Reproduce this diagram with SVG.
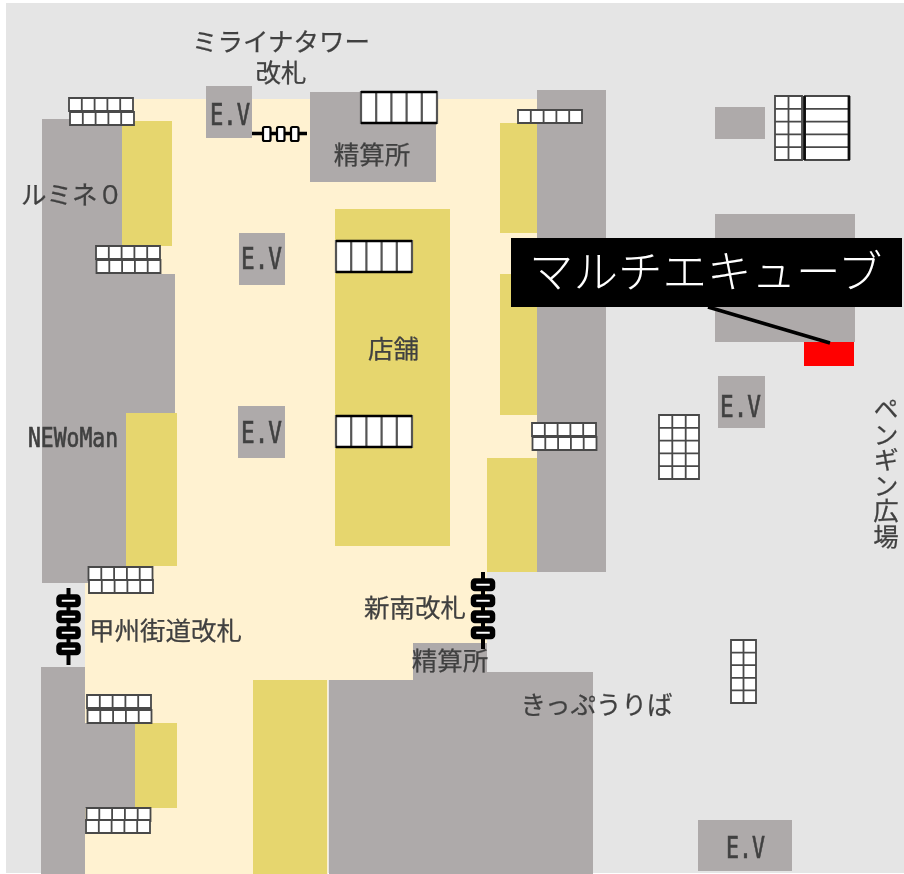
<svg xmlns="http://www.w3.org/2000/svg" xmlns:xlink="http://www.w3.org/1999/xlink" width="904" height="874" viewBox="0 0 904 874">
<style>
.g{fill:#aeaaaa}.y{fill:#e6d66e}.c{fill:#fff2d1}
.t{font-family:"Noto Sans CJK JP",sans-serif;font-size:25.5px;fill:#404040;stroke:#404040;stroke-width:.25}
.m{font-family:"DejaVu Sans Mono",monospace;font-size:30px;fill:#404040;stroke:#404040;stroke-width:.7}
.cell{fill:#fff;stroke:#484848;stroke-width:1.8}
.big{fill:#fff;stroke:#555;stroke-width:2.2}
.edge{stroke:#000;stroke-width:2.4;fill:none}
.gate{fill:#fff;stroke:#000;stroke-width:5.500}
</style>
<defs>
<filter id="soft" x="0" y="0" width="100%" height="100%"><feGaussianBlur stdDeviation="0.7"/></filter>
<g id="row"><path class="cell" d="M0 0H64V13H0ZM12.800 0V13M25.600 0V13M38.400 0V13M51.200 0V13"/></g>
<g id="wide"><path class="big" d="M0 0H76V31H0ZM15.200 0V31M30.400 0V31M45.600 0V31M60.800 0V31"/><path class="edge" d="M0 0H76M0 31H76"/></g>
<g id="gv"><path d="M0 -8V69" stroke="#000" stroke-width="4"/><rect class="gate" x="-9.500" y="1" width="19" height="7.500" rx="1.500"/><rect class="gate" x="-9.500" y="17" width="19" height="7.500" rx="1.500"/><rect class="gate" x="-9.500" y="33" width="19" height="7.500" rx="1.500"/><rect class="gate" x="-9.500" y="49" width="19" height="7.500" rx="1.500"/></g>
</defs>
<rect width="904" height="874" fill="#fff"/>
<g filter="url(#soft)">
<rect x="6" y="3" width="898" height="870" fill="#e5e5e5"/>
<path id="concourse" class="c" d="M134 99H537V458H487V643H413V680H328V874H85V583H42V119H134Z"/>
<g id="lumine"><path class="g" d="M42 119H122V274H175V413H126V583H42Z"/><rect class="y" x="122" y="121" width="50" height="125"/><text class="t" x="21" y="204">ルミネ０</text></g>
<g id="newoman"><rect class="y" x="126" y="413" width="51" height="153"/><text class="m" x="28" y="447" style="font-size:26px" textLength="90" lengthAdjust="spacingAndGlyphs">NEWoMan</text></g>
<g id="lower-left"><path class="g" d="M41 667H85V723H135V808H85V874H41Z"/><rect class="y" x="135" y="723" width="42" height="85"/></g>
<g id="lower-shop"><rect class="y" x="253" y="680" width="74" height="194"/></g>
<g id="east-block"><rect class="g" x="537" y="90" width="69" height="482"/><rect class="y" x="500" y="123" width="37" height="110"/><rect class="y" x="500" y="274" width="37" height="141"/><rect class="y" x="487" y="458" width="50" height="114"/></g>
<g id="tenpo"><rect class="y" x="335" y="209" width="115" height="337"/><text class="t" x="393.500" y="358" text-anchor="middle">店舗</text></g>
<g id="seisan-north"><rect class="g" x="310" y="92" width="126" height="90"/><text class="t" x="372" y="164" text-anchor="middle">精算所</text></g>
<g id="kippu"><path class="g" d="M329 680H413V643H487V672H593V874H329Z"/><text class="t" x="450" y="670" text-anchor="middle">精算所</text><text class="t" x="596.500" y="714" text-anchor="middle">きっぷうりば</text></g>
<g id="ev1"><rect class="g" x="206" y="86" width="46" height="52"/><text class="m" x="210" y="125" textLength="40" lengthAdjust="spacingAndGlyphs">E.V</text></g>
<g id="ev2"><rect class="g" x="239" y="233" width="46" height="52"/><text class="m" x="241" y="269" textLength="41" lengthAdjust="spacingAndGlyphs">E.V</text></g>
<g id="ev3"><rect class="g" x="238" y="406" width="47" height="52"/><text class="m" x="241" y="443" textLength="41" lengthAdjust="spacingAndGlyphs">E.V</text></g>
<g id="ev4"><rect class="g" x="718" y="376" width="47" height="52"/><text class="m" x="720" y="417" textLength="41" lengthAdjust="spacingAndGlyphs">E.V</text></g>
<g id="ev5"><rect class="g" x="698" y="820" width="94" height="51"/><text class="m" x="726" y="858" textLength="39" lengthAdjust="spacingAndGlyphs">E.V</text></g>
<g id="east-box"><rect class="g" x="715" y="107" width="50" height="32"/></g>
<g id="multi-cube"><rect class="g" x="715" y="214" width="140" height="128"/><rect x="804" y="342" width="50" height="24" fill="#f00"/></g>
<g id="stairs">
<use xlink:href="#row" x="69" y="98"/><use xlink:href="#row" x="70" y="112"/>
<use xlink:href="#row" x="96" y="246"/><use xlink:href="#row" x="96.500" y="260"/>
<use xlink:href="#row" x="518" y="110"/>
<use xlink:href="#row" x="532" y="423"/><use xlink:href="#row" x="532.500" y="437"/>
<use xlink:href="#row" x="88.500" y="567"/><use xlink:href="#row" x="89" y="580"/>
<use xlink:href="#row" x="87" y="695"/><use xlink:href="#row" x="87.500" y="710"/>
<use xlink:href="#row" x="86.500" y="808"/><use xlink:href="#row" x="86" y="820"/>
<use xlink:href="#wide" x="361" y="92"/><use xlink:href="#wide" x="336" y="241"/><use xlink:href="#wide" x="336" y="416"/>
<path class="cell" d="M775 96H802V160H775ZM788.500 96V160M775 108.800H802M775 121.600H802M775 134.400H802M775 147.200H802"/>
<path class="cell" d="M805 96H849V160H805ZM805 108.800H849M805 121.600H849M805 134.400H849M805 147.200H849"/>
<path stroke="#111" stroke-width="2.800" d="M804.500 96V160M849 96V160"/>
<path class="cell" d="M659 415H699V479H659ZM672.300 415V479M685.700 415V479M659 427.800H699M659 440.600H699M659 453.400H699M659 466.200H699"/>
<path class="cell" d="M731 640H756V703H731ZM743.500 640V703M731 652.600H756M731 665.200H756M731 677.800H756M731 690.400H756"/>
</g>
<g id="gate-mirai"><path d="M252 133.500H307" stroke="#000" stroke-width="3.500"/><rect x="263" y="127" width="7.500" height="14" rx="1.500" fill="#fff" stroke="#000" stroke-width="2.200"/><rect x="277" y="127" width="7.500" height="14" rx="1.500" fill="#fff" stroke="#000" stroke-width="2.200"/><rect x="291" y="127" width="7.500" height="14" rx="1.500" fill="#fff" stroke="#000" stroke-width="2.200"/></g>
<g id="gate-koshu"><use xlink:href="#gv" x="68.500" y="596"/><text class="t" x="89" y="640">甲州街道改札</text></g>
<g id="gate-shinminami"><use xlink:href="#gv" x="483" y="580"/><text class="t" x="364" y="617">新南改札</text></g>
<g id="mirai-label"><text class="t" text-anchor="middle"><tspan x="281" y="51">ミライナタワー</tspan><tspan x="281" y="82">改札</tspan></text></g>
<g id="penguin"><text class="t" x="886" y="396" style="writing-mode:vertical-rl">ペンギン広場</text></g>
<g id="connectors"><path d="M708 307L830 343" stroke="#000" stroke-width="3.500" fill="none"/></g>
<g id="callout"><rect x="511" y="238" width="391" height="69" fill="#000"/><text x="529" y="288" style="font-family:'Noto Sans CJK JP',sans-serif;font-size:44.500px;font-weight:300" fill="#fff">マルチエキューブ</text></g>
</g>
</svg>
